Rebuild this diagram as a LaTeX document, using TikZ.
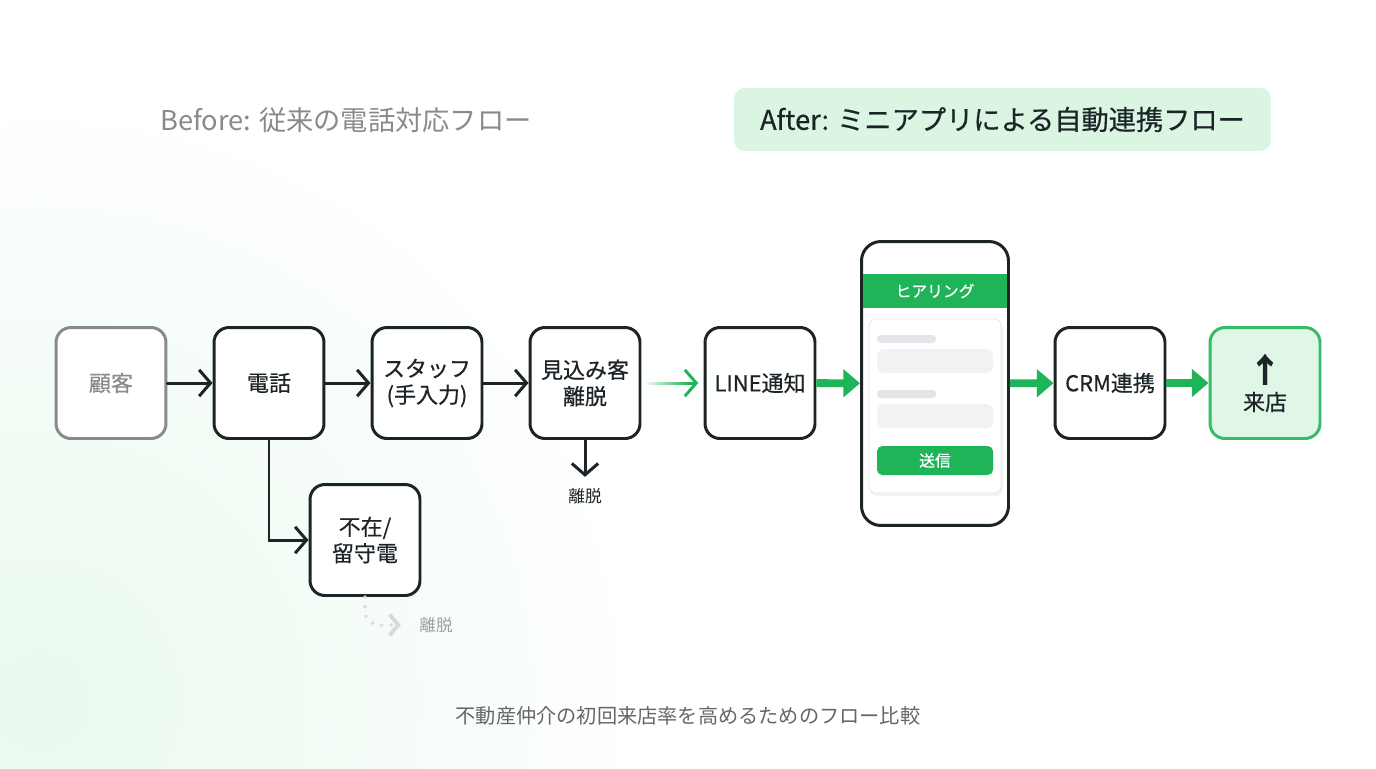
\documentclass[tikz,border=0pt]{standalone}
\usepackage{fontspec}
\setmainfont{Noto Sans CJK JP}
\newfontfamily\medfont[FakeBold=0.5]{Noto Sans CJK JP}
\usetikzlibrary{arrows.meta, positioning, fadings}
\definecolor{InkDark}{RGB}{28,36,40}
\definecolor{MutedGray}{RGB}{138,138,138}
\definecolor{BrandGreen}{RGB}{32,180,88}
\definecolor{MintLight}{RGB}{218,245,226}
\definecolor{FieldGray}{RGB}{241,242,244}
\definecolor{BarGray}{RGB}{228,229,232}

\begin{document}
\begin{tikzpicture}[x=0.02cm, y=-0.02cm,
        box/.style={draw=InkDark, line width=1.7pt, rounded corners=8.5pt,
                    fill=white, minimum width=2.2cm, minimum height=2.22cm,
                    align=center, text=InkDark,
                    font=\medfont\fontsize{12.5}{15}\selectfont},
        faded/.style={box, draw=MutedGray, text=MutedGray},
        goal/.style={box, draw=BrandGreen!90, fill=MintLight!85},
        phone/.style={draw=InkDark, line width=1.7pt, rounded corners=11pt,
                      fill=white, minimum width=2.94cm, minimum height=5.68cm},
        flow/.style={draw=InkDark, line width=1.7pt, line cap=round,
                     -{Straight Barb[length=6.5pt,width=15pt]}},
        gflow/.style={draw=BrandGreen, line width=4.5pt,
                      -{Triangle[length=9.5pt,width=15.5pt]}},
        small/.style={font=\fontsize{9.5}{11}\selectfont}
      ]
        % background
        \fill[white] (0,0) rectangle (1376,768);
        \begin{scope}
          \clip (0,0) rectangle (1376,768);
          \shade[inner color=MintLight!60, outer color=white] (40,700) circle (620);
        \end{scope}
        \useasboundingbox (0,0) rectangle (1376,768);

        % titles
        \node[font=\fontsize{15.5}{18}\selectfont, text=MutedGray, anchor=west]
          (before) at (154,120) {Before: 従来の電話対応フロー};
        \node[fill=MintLight, rounded corners=6pt, minimum width=10.74cm,
              minimum height=1.26cm, text=InkDark,
              font=\medfont\fontsize{15.5}{18}\selectfont]
          (after) at (1002.5,119.5) {After: ミニアプリによる自動連携フロー};

        % before flow
        \node[faded] (client) at (111,383) {顧客};
        \node[box] (call) at (269,383) {電話};
        \node[box] (staff) at (427,383) {スタッフ\\(手入力)};
        \node[box] (prospect) at (585,383) {見込み客\\離脱};
        \node[box] (absent) at (365,540) {不在/\\留守電};
        \node[small, text=InkDark] (leave1) at (585,496) {離脱};
        \node[small, text=MutedGray!80] (leave2) at (436,625) {離脱};

        \draw[flow] (client) -- (call);
        \draw[flow] (call) -- (staff);
        \draw[flow] (staff) -- (prospect);
        \draw[flow] (call.south) |- (absent.west);
        \draw[flow, shorten >=3pt] (prospect.south) -- (leave1.north);
        \draw[draw=black!15, line width=2.2pt, line cap=round,
              dash pattern=on 0pt off 5.5pt, rounded corners=8pt,
              -{Straight Barb[length=5pt,width=12pt]}, shorten >=7pt]
          (absent.south) |- (leave2.west);

        % after flow
        \node[box] (notify) at (760,383) {LINE通知};
        \node[phone] (app) at (935,383.5) {};
        \node[box] (crm) at (1110,383) {CRM連携};
        \node[goal] (visit) at (1265,383) {{\fontsize{19}{19}\bfseries\selectfont ↑}\\[1pt]来店};

        % mini app screen
        \fill[BrandGreen] (863,274) rectangle (1007,308);
        \node[text=white, font=\medfont\fontsize{9}{10}\selectfont] (hearing) at (935,291) {ヒアリング};
        \fill[black!5, rounded corners=4pt] (870,322) rectangle (1003,496);
        \draw[draw=black!10, fill=white, rounded corners=4pt] (869,319) rectangle (1001,493);
        \fill[BarGray, rounded corners=2pt] (877,335) rectangle (936,343);
        \fill[FieldGray, rounded corners=4pt] (877,349) rectangle (993,373);
        \fill[BarGray, rounded corners=2pt] (877,390) rectangle (936,398);
        \fill[FieldGray, rounded corners=4pt] (877,404) rectangle (993,428);
        \node[fill=BrandGreen, rounded corners=3pt, minimum width=2.32cm,
              minimum height=0.58cm, text=white,
              font=\medfont\fontsize{9}{10}\selectfont]
          (send) at (935,460.5) {送信};

        % faded link into the new flow
        \draw[flow, draw=BrandGreen, shorten <=3pt, shorten >=3pt]
          (prospect) -- (notify);
        \fill[white, path fading=east] (643,376) rectangle (688,390);
        \draw[gflow] (notify) -- (app);
        \draw[gflow] (app) -- (crm);
        \draw[gflow] (crm) -- (visit);

        \node[font=\fontsize{11.5}{14}\selectfont, text=black!60]
          (caption) at (688,716) {不動産仲介の初回来店率を高めるためのフロー比較};
      \end{tikzpicture}
\end{document}
